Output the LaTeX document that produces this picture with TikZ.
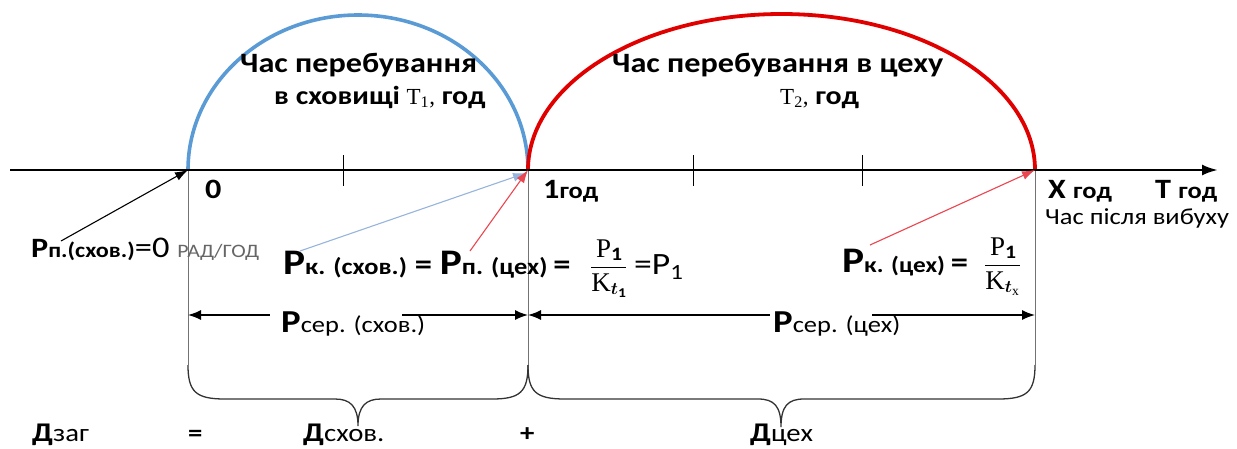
\documentclass[tikz,border=0pt]{standalone}
\usepackage{fontspec}
\setmainfont{Carlito}[FakeStretch=1.15]
\newfontfamily\serif{Liberation Serif}
\usepackage{amsmath}
\usetikzlibrary{arrows.meta}
\definecolor{arcblue}{RGB}{91,155,213}
\definecolor{arcred}{RGB}{225,0,0}
\definecolor{thinblue}{RGB}{150,180,220}
\definecolor{thinred}{RGB}{235,70,80}
\newcommand{\fs}[1]{\fontsize{#1}{#1}\selectfont}
\begin{document}
\begin{tikzpicture}[x=1pt,y=-1pt,
  lbl/.style={anchor=base west,inner sep=0pt},
  axisline/.style={line width=2.6pt,-{Latex[length=16pt,width=11pt]}},
  tick/.style={line width=1pt},
  guide/.style={line width=0.8pt,draw=black!55},
  dimL/.style={line width=1.4pt,{Latex[length=13pt,width=10pt]}-},
  dimR/.style={line width=1.4pt,-{Latex[length=13pt,width=10pt]}},
  pointer/.style={line width=1.1pt,-{Latex[length=13pt,width=9pt]}},
  brace/.style={line width=1.3pt,draw=black!80}]
\useasboundingbox (0,0) rectangle (1237,448);
% key points on the axis
\coordinate (L) at (10,170);
\coordinate (R) at (1218,170);
\coordinate (O) at (188,170);
\coordinate (A) at (528,170);
\coordinate (X) at (1035,170);
% guide lines
\draw[guide] (O) -- (188,365);
\draw[guide] (A) -- (528,365);
\draw[guide] (X) -- (1035,365);
% arcs
\draw[line width=3.6pt,arcblue] (O) arc[start angle=180,end angle=360,x radius=170,y radius=155];
\draw[line width=3.8pt,arcred] (A) arc[start angle=180,end angle=360,x radius=253.5,y radius=156];
% axis
\draw[axisline] (L) -- (R);
\foreach \t in {343,693,862} \draw[tick] (\t,155) -- (\t,186);
% titles
\node[lbl] (t1a) at (240,72) {\bfseries\fs{28}Час перебування};
\node[lbl] (t1b) at (274,104) {\bfseries\fs{26}в сховищі {\serif\mdseries\fs{23}T\textsubscript{1},} год};
\node[lbl] (t2a) at (612,72) {\bfseries\fs{28}Час перебування в цеху};
\node[lbl] (t2b) at (780,104) {\bfseries\fs{26}{\serif\mdseries\fs{23}T\textsubscript{2},} год};
% axis labels
\node[lbl] (n0) at (205,198) {\bfseries\fs{28}0};
\node[lbl] (n1) at (543,198) {\bfseries\fs{28}1\fs{23}год};
\node[lbl] (nx) at (1048,198) {\bfseries\fs{28}X \fs{23}год};
\node[lbl] (nt) at (1155,198) {\bfseries\fs{28}T \fs{23}год};
\node[lbl] (na) at (1045,224) {\fs{23}Час після вибуху};
% power labels
\node[lbl] (pn) at (31,257) {\bfseries\fs{28}P\fs{21}п.(схов.)\mdseries\fs{30}=0 {\color{black!60}\fs{19}РАД/ГОД}};
\node[lbl] (pk) at (283,274) {\bfseries\fs{36}P\fs{23}к. (схов.) \fs{30}= \fs{36}P\fs{23}п. (цех) \fs{30}=};
\node[lbl] (fr1) at (590,274) {\fs{27}$\dfrac{\text{\serif P}_{\mathbf 1}}{\text{\serif K}_{\boldsymbol{t}_{\mathbf 1}}}$};
\node[lbl] (p1) at (634,274) {\fs{31}=P\textsubscript{1}};
\node[lbl] (pkc) at (842,272) {\bfseries\fs{36}P\fs{22}к. (цех) \fs{30}=};
\node[lbl] (fr2) at (984,272) {\fs{27}$\dfrac{\text{\serif P}_{\mathbf 1}}{\text{\serif K}_{\boldsymbol{t}_{\text{\serif x}}}}$};
% pointers
\coordinate (pnT) at (61,241);
\coordinate (pkT) at (300,251);
\coordinate (pcT) at (470,251);
\coordinate (pxT) at (870,245);
\coordinate (Ab) at (526,173);
\draw[pointer,black] (pnT) -- (O);
\draw[pointer,thinblue] (pkT) -- (Ab);
\draw[pointer,thinred] (pcT) -- (A);
\draw[pointer,thinred] (pxT) -- (X);
% average dimension lines
\coordinate (d1) at (188,315);
\coordinate (g1) at (270,315);
\coordinate (g2) at (402,315);
\coordinate (d2) at (528,315);
\coordinate (g3) at (770,315);
\coordinate (g4) at (872,315);
\coordinate (d3) at (1035,315);
\draw[dimL] (d1) -- (g1);
\draw[dimR] (g2) -- (d2);
\draw[dimL] (d2) -- (g3);
\draw[dimR] (g4) -- (d3);
\node[lbl] (ps) at (281,332) {\bfseries\fs{32}P\mdseries\fs{23}сер. (схов.)};
\node[lbl] (pc) at (773,332) {\bfseries\fs{32}P\mdseries\fs{23}сер. (цех)};
% braces
\draw[brace] (188,365) .. controls (188,392) and (196,399) .. (225,399) -- (335,399)
  .. controls (350,399) and (358,406) .. (358,426)
  .. controls (358,406) and (366,399) .. (381,399) -- (492,399)
  .. controls (520,399) and (528,392) .. (528,365);
\draw[brace] (528,365) .. controls (528,392) and (536,399) .. (565,399) -- (758,399)
  .. controls (774,399) and (781,406) .. (781,427)
  .. controls (781,406) and (788,399) .. (804,399) -- (998,399)
  .. controls (1027,399) and (1035,392) .. (1035,365);
% dose equation
\node[lbl] (dz) at (32,441) {\bfseries\fs{27}Д\mdseries\fs{25}заг};
\node[lbl] (eq) at (188,441) {\bfseries\fs{25}=};
\node[lbl] (ds) at (303,441) {\bfseries\fs{27}Д\mdseries\fs{25}схов.};
\node[lbl] (pl) at (520,441) {\bfseries\fs{25}+};
\node[lbl] (dc) at (750,441) {\bfseries\fs{27}Д\mdseries\fs{25}цех};
\end{tikzpicture}
\end{document}
